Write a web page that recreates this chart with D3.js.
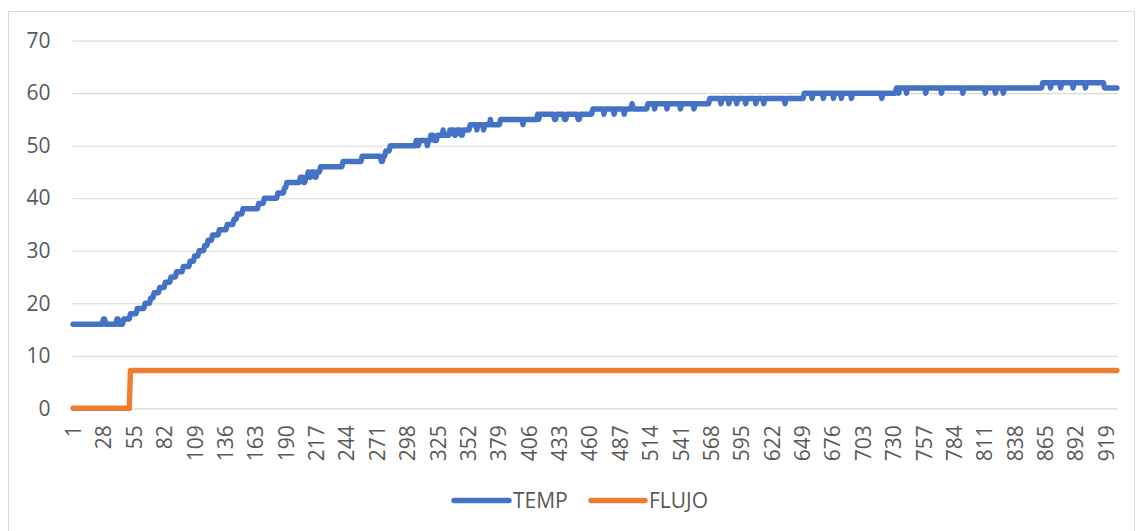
<!DOCTYPE html>
<html>
<head>
<meta charset="utf-8">
<script src="https://cdn.jsdelivr.net/npm/d3@7"></script>
<style>
  html, body { margin: 0; padding: 0; background: #fff; }
  svg { display: block; }
  text { font-family: "Open Sans", "Noto Sans", sans-serif; fill: #595959; }
</style>
</head>
<body>
<svg id="chart" width="1143" height="531"></svg>
<script>
// TEMP readings as run-length pairs: [value, number of consecutive samples]
const tempRuns = [
  [16,27],[17,2],[16,10],[17,2],[16,4],[17,6],[18,6],[19,7],[20,5],[21,3],
  [22,5],[23,5],[24,5],[25,5],[26,6],[27,6],[28,4],[29,4],[30,5],[31,3],
  [32,4],[33,6],[34,7],[35,6],[36,3],[37,5],[38,14],[39,5],[40,12],[41,6],
  [42,2],[43,12],[44,3],[43,2],[44,2],[45,1],[44,2],[45,3],[44,2],[45,3],
  [46,20],[47,17],[48,17],[47,2],[48,2],[49,4],[50,23],[51,2],[50,1],[51,7],
  [50,1],[51,2],[52,3],[51,3],[52,5],[53,1],[52,5],[53,4],[52,2],[53,4],
  [52,2],[53,6],[54,6],[53,1],[54,5],[53,1],[54,5],[55,1],[54,8],[55,20],
  [54,1],[55,12],[56,1],[55,1],[56,13],[55,2],[56,7],[55,2],[56,10],[55,2],
  [56,11],[57,10],[56,1],[57,8],[56,1],[57,8],[56,1],[57,6],[58,1],[57,13],
  [58,6],[57,1],[58,10],[57,1],[58,11],[57,1],[58,11],[57,1],[58,13],[59,10],
  [58,1],[59,6],[58,1],[59,6],[58,1],[59,7],[58,1],[59,8],[58,1],[59,6],
  [58,1],[59,18],[58,1],[59,16],[60,7],[59,1],[60,9],[59,1],[60,8],[59,1],
  [60,6],[59,1],[60,8],[59,1],[60,26],[59,1],[60,12],[61,2],[60,1],[61,6],
  [60,1],[61,16],[60,1],[61,13],[60,1],[61,18],[60,1],[61,19],[60,1],[61,8],
  [60,1],[61,6],[60,1],[61,34],[62,7],[61,1],[62,8],[61,1],[62,10],[61,1],
  [62,10],[61,1],[62,16],[61,12]
];

// FLUJO readings as run-length pairs
const flujoRuns = [[0,51],[7.2,878]];

// Category-axis labels (every 27th sample) and value-axis ticks
const xTickLabels = [1,28,55,82,109,136,163,190,217,244,271,298,325,352,379,406,
  433,460,487,514,541,568,595,622,649,676,703,730,757,784,811,838,865,892,919];
const yTicks = [0,10,20,30,40,50,60,70];

const seriesNames = ["TEMP", "FLUJO"];
const seriesColors = ["#4472C4", "#ED7D31"];

const expand = runs => runs.flatMap(([v, n]) => Array(n).fill(v));
const temp = expand(tempRuns);
const flujo = expand(flujoRuns);
const categories = temp.map((_, i) => i + 1);

const FONT = '"Open Sans", "Noto Sans", sans-serif';
const FONT_SIZE = "21px";
const LINE_W = 5.4;

const svg = d3.select("#chart");

// outer chart frame
svg.append("rect")
  .attr("x", 8.5).attr("y", 11.5)
  .attr("width", 1126).attr("height", 540)
  .attr("fill", "none").attr("stroke", "#D9D9D9").attr("stroke-width", 1);

const plot = { left: 72.5, right: 1117.5, top: 40.7, bottom: 408.3 };

const x = d3.scalePoint()
  .domain(categories)
  .range([plot.left, plot.right])
  .padding(0.5);

const y = d3.scaleLinear()
  .domain([0, 70])
  .range([plot.bottom, plot.top]);

// horizontal gridlines + value labels
const yAxis = svg.append("g")
  .attr("transform", `translate(${plot.left},0)`)
  .call(d3.axisLeft(y).tickValues(yTicks).tickSize(-(plot.right - plot.left)).tickPadding(22));
yAxis.select(".domain").remove();
yAxis.selectAll(".tick line").attr("stroke", "#D9D9D9").attr("stroke-width", 1.2);
yAxis.selectAll(".tick text")
  .attr("font-size", FONT_SIZE)
  .attr("fill", "#595959")
  .style("font-family", FONT);

// category axis with rotated labels
const xAxis = svg.append("g")
  .attr("transform", `translate(0,${plot.bottom})`)
  .call(d3.axisBottom(x).tickValues(xTickLabels).tickSize(0));
xAxis.select(".domain").remove();
xAxis.selectAll(".tick text")
  .attr("font-size", FONT_SIZE)
  .attr("fill", "#595959")
  .style("font-family", FONT)
  .attr("text-anchor", "end")
  .attr("transform", "rotate(-90)")
  .attr("x", -17)
  .attr("y", 0)
  .attr("dy", "0.36em");

// series lines
const line = d3.line()
  .x((d, i) => x(categories[i]))
  .y(d => y(d));

[flujo, temp].forEach((vals, k) => {
  const idx = k === 0 ? 1 : 0;
  svg.append("path")
    .datum(vals)
    .attr("d", line)
    .attr("fill", "none")
    .attr("stroke", seriesColors[idx])
    .attr("stroke-width", LINE_W)
    .attr("stroke-linejoin", "round")
    .attr("stroke-linecap", "round");
});

// legend
const legendItems = [
  { name: seriesNames[0], color: seriesColors[0], x0: 454, x1: 509, tx: 513 },
  { name: seriesNames[1], color: seriesColors[1], x0: 591, x1: 645, tx: 649 }
];
const legend = svg.append("g");
legendItems.forEach(it => {
  legend.append("line")
    .attr("x1", it.x0).attr("x2", it.x1)
    .attr("y1", 500.5).attr("y2", 500.5)
    .attr("stroke", it.color).attr("stroke-width", LINE_W)
    .attr("stroke-linecap", "round");
  legend.append("text")
    .attr("x", it.tx).attr("y", 500.5)
    .attr("dy", "0.36em")
    .attr("font-size", FONT_SIZE)
    .style("font-family", FONT)
    .text(it.name);
});
</script>
</body>
</html>
